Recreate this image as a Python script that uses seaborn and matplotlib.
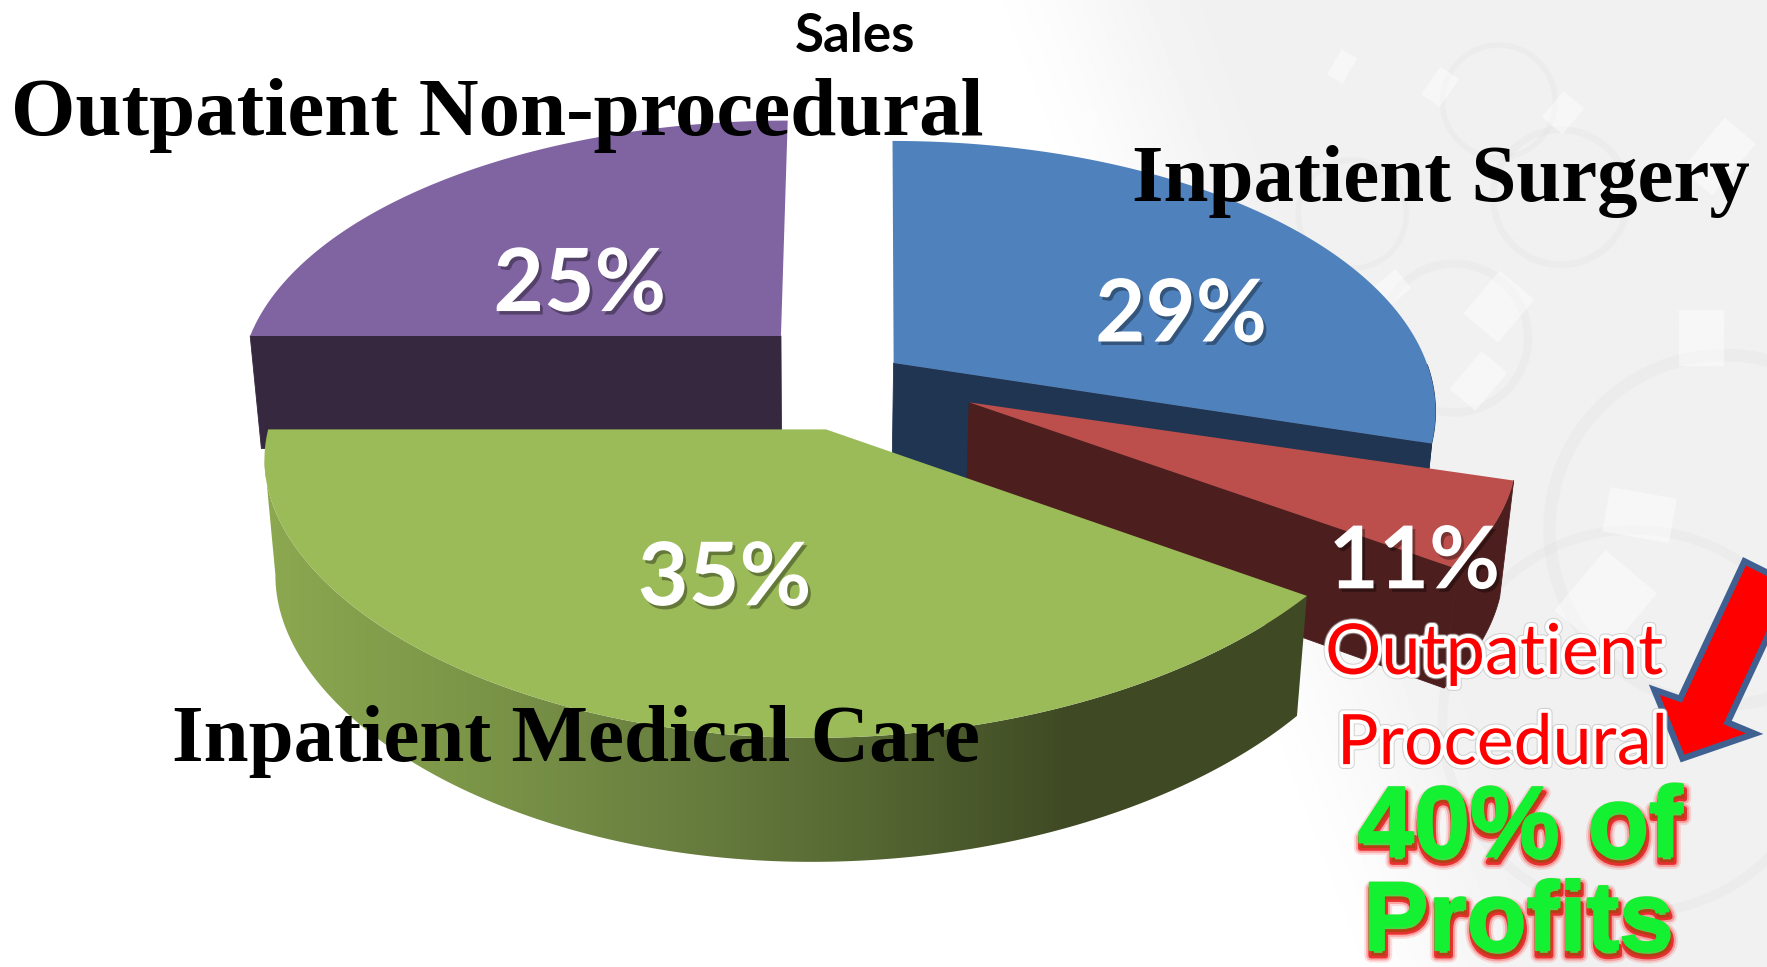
import numpy as np
import matplotlib
matplotlib.use("Agg")
import matplotlib.pyplot as plt
import matplotlib.patheffects as pe
from matplotlib.colors import LinearSegmentedColormap
from matplotlib.patches import Polygon, Circle, Rectangle
from matplotlib.transforms import Affine2D
import seaborn as sns

# ---- data -------------------------------------------------------------
title = "Sales"
categories = ["Inpatient Surgery", "Outpatient Procedural",
              "Inpatient Medical Care", "Outpatient Non-procedural"]
shares = [29, 11, 35, 25]
callout_lines = ["Outpatient", "Procedural"]
profit_lines = ["40% of", "Profits"]

# ---- style ------------------------------------------------------------
sns.set_theme(style="white")
top_colors = sns.color_palette(["#4F81BD", "#BC4F4B", "#9BBB59", "#8064A2"])
wall_colors = sns.color_palette(["#1F3552", "#4D1E1E", "#3F4A24", "#36283F"])
green_wall_cmap = LinearSegmentedColormap.from_list(
    "greenwall", ["#8CA850", "#7C9648", "#6A8040", "#556732", "#3F4A24"])

W, H = 1568, 858
apex = [(793, 322), (860, 357), (733, 381), (693, 298)]
rx_right = [473, 479, 508, 471]
rx_left = [473, 479, 495, 471]
ry = [232, 225, 225, 225]
lean = [-1, 0, 13, 6]
persp_x = [1.0, 1.0, 0.5, 1.0]
K = 0.178
warp_in = [-270, -180, -54, -14.4, 90]
warp_out = [-270, -180, -36, -17, 90]

fig = plt.figure(figsize=(17.67, 9.67), dpi=100, facecolor="white")
ax = fig.add_axes([0, 0, 1, 1])
ax.set_xlim(0, W)
ax.set_ylim(H, 0)
ax.axis("off")

# ---- faint background texture ------------------------------------------
yy, xx = np.mgrid[0:H, 0:W]
edge = 850 + 0.375 * yy
t = np.clip((xx - edge) / 250, 0, 1)
t = t * t * (3 - 2 * t)
ax.imshow(1 - 0.058 * t, cmap="gray", vmin=0, vmax=1, extent=(0, W, H, 0),
          aspect="auto", zorder=0, interpolation="bilinear")
for cx, cy, r, lw in [(1530, 470, 155, 9), (1290, 300, 66, 6), (1450, 640, 170, 7),
                      (1385, 175, 60, 5), (1200, 190, 48, 4), (1330, 90, 50, 4)]:
    ax.add_patch(Circle((cx, cy), r, fill=False, ec="#DDDDDD", lw=lw, alpha=0.22, zorder=0.5))
for cx, cy, w, h, a in [(1330, 272, 50, 40, -50), (1387, 100, 30, 24, -50), (1278, 77, 30, 20, -55),
                        (1191, 59, 26, 16, -60), (963, 112, 30, 14, -60), (1525, 139, 60, 36, -50),
                        (1425, 534, 70, 60, -50), (1312, 338, 44, 30, -50), (1455, 457, 60, 40, 10),
                        (1230, 260, 40, 22, -40), (1510, 300, 40, 50, 0)]:
    tr = Affine2D().rotate_deg_around(cx, cy, a) + ax.transData
    ax.add_patch(Rectangle((cx - w / 2, cy - h / 2), w, h, fc="white", ec="none", alpha=0.45,
                           transform=tr, zorder=0.6))

# ---- slice geometry, from the shares -----------------------------------
edges = 90 - 360 * np.cumsum([0] + shares) / np.sum(shares)


def warp(theta):
    return np.interp(theta, warp_in, warp_out)


def rim(i, th1, th2, n=200):
    th = np.radians(np.linspace(warp(th1), warp(th2), n))
    u, v = np.cos(th), np.sin(th)
    w = 1 + K * v
    a = np.where(u >= 0, rx_right[i], rx_left[i])
    x = apex[i][0] + a * u / w ** persp_x[i] + lean[i] * v
    y = apex[i][1] - ry[i] * v / w
    return np.column_stack([x, y])


def below(p):
    p = np.asarray(p, float)
    return np.column_stack([p[:, 0] - 0.02 * (p[:, 0] - 720),
                            p[:, 1] + 100 + 0.028 * (p[:, 1] - 298)])


def solid(pts, color, z):
    ax.fill(pts[:, 0], pts[:, 1], fc=color, ec=color, lw=0.6, zorder=z)


draw_order = [3, 0, 1, 2]
for z, i in enumerate(draw_order, start=2):
    th1, th2 = edges[i], edges[i + 1]
    r = rim(i, th1, th2)
    ap = np.array([apex[i]], float)
    # outer wall: only the front part of the rim shows
    if i != 3:
        vis = r[np.linspace(warp(th1), warp(th2), len(r)) < 0]
        if i == 2:
            # stop at the silhouette so the side runs straight down from it
            vis = vis[:np.argmin(vis[:, 0]) + 1]
        wall = np.vstack([vis, below(vis)[::-1]])
        if i == 2:
            poly = Polygon(wall, closed=True, fc="none", ec="none", zorder=z)
            ax.add_patch(poly)
            x0, x1 = wall[:, 0].min(), wall[:, 0].max()
            gx = np.linspace(x0, x1, 800)
            grad = np.clip((gx - x0) / (950 - x0), 0, 1).reshape(1, -1)
            im = ax.imshow(grad, cmap=green_wall_cmap, extent=(x0, x1, H, 0),
                           aspect="auto", zorder=z, vmin=0, vmax=1)
            im.set_clip_path(poly)
        else:
            solid(wall, wall_colors[i], z)
    # radial wall facing the viewer
    if i != 2:
        end = r[:1] if i == 3 else r[-1:]
        solid(np.vstack([ap, end, below(end), below(ap)]), wall_colors[i], z)
    top = np.vstack([ap, r])
    ax.fill(top[:, 0], top[:, 1], color=top_colors[i], lw=0, zorder=z + 0.1)

# ---- arrow -------------------------------------------------------------
ax.add_patch(Polygon([(1493, 673), (1468, 612), (1491, 620), (1548, 498), (1590, 519),
                      (1533, 641), (1557, 651)], closed=True, fc="#FF0000", ec="#3F6090",
                     lw=4.5, zorder=7, joinstyle="miter"))

# ---- text --------------------------------------------------------------
renderer = fig.canvas.get_renderer()


def fit(txt, x0, x1, base, **kw):
    t_ = ax.text((x0 + x1) / 2, base, txt, ha="center", va="baseline", zorder=10, **kw)
    t_.set_fontsize(40)
    width = t_.get_window_extent(renderer).width * W / 1767
    t_.set_fontsize(40 * (x1 - x0) / width)
    return t_


fit(title, 705, 812, 46, family="Lato", fontweight="bold", color="black")

serif = dict(family="Liberation Serif", fontweight="bold", color="black")
fit(categories[3], 10, 872, 120, **serif)
fit(categories[0], 1005, 1553, 178, **serif)
fit(categories[2], 153, 870, 675, **serif)

shadow = [pe.SimplePatchShadow(offset=(2, -2.5), shadow_rgbFace="#000000", alpha=0.35), pe.Normal()]
pct_x = [(972, 1124, 303), (1179, 1331, 522), (566, 720, 537), (438, 591, 276)]
for s, (x0, x1, b) in zip(shares, pct_x):
    fit(f"{s}%", x0, x1, b, family="Lato", fontweight="bold", color="white",
        path_effects=shadow)

out = [pe.Stroke(linewidth=7, foreground="#BBBBBB", alpha=0.6),
       pe.Stroke(linewidth=5.5, foreground="white"), pe.Normal()]
fit(callout_lines[0], 1176, 1476, 598, family="Lato", color="#FF0000", path_effects=out)
fit(callout_lines[1], 1186, 1480, 678, family="Lato", color="#FF0000", path_effects=out)

glow = [pe.Stroke(linewidth=10, foreground="#FF0000", alpha=0.12, offset=(1, -4)),
        pe.Stroke(linewidth=7, foreground="#FF0000", alpha=0.25, offset=(1, -4)),
        pe.Stroke(linewidth=4, foreground="#E00000", alpha=0.7, offset=(1, -4)),
        pe.Stroke(linewidth=1.5, foreground="#14F032"), pe.Normal()]
green = dict(family="Liberation Sans", fontweight="bold", color="#14F032", path_effects=glow)
fit(profit_lines[0], 1205, 1493, 760, **green)
fit(profit_lines[1], 1210, 1485, 843, **green)

ax.set_xlim(0, W)
ax.set_ylim(H, 0)
fig.savefig("out.png", dpi=100)
